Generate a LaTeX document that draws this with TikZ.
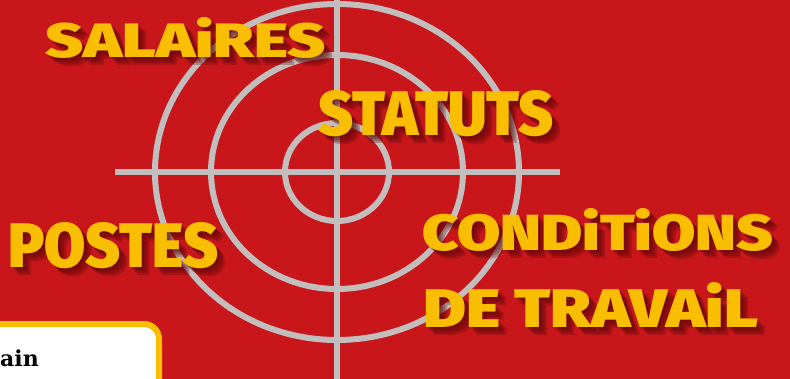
\documentclass[tikz,border=0pt]{standalone}
\usepackage{fontspec}
\newfontfamily\heavyfont{Fira Sans Black}
\newfontfamily\slabfont{DejaVu Serif}
\definecolor{bgred}{HTML}{C8161B}
\definecolor{tgray}{HTML}{C2BEBE}
\definecolor{tyellow}{HTML}{F9BE00}
\definecolor{shadowred}{HTML}{5A0606}
\definecolor{boxorange}{HTML}{F9BE00}
\newcommand{\fitw}[3]{\resizebox{#1pt}{#2pt}{\heavyfont #3}}
\tikzset{
  ring/.style={draw=tgray, line width=6pt},
  cross/.style={draw=tgray, line width=5.5pt},
  wordtxt/.style={inner sep=0pt, anchor=base west, text=tyellow},
  wordshadow/.style={inner sep=0pt, anchor=base west, text=shadowred, opacity=0.28},
}
\newcommand{\shadowword}[6]{%
  \foreach \d in {2,4,6,8}{%
    \node[wordshadow] at (#2+\d,#3+\d) {\fitw{#4}{#5}{#6}};
  }
  \node[wordtxt] (#1) at (#2,#3) {\fitw{#4}{#5}{#6}};
}
\begin{document}
\begin{tikzpicture}[x=1pt,y=-1pt]
\useasboundingbox (0,0) rectangle (790,378);
\clip (0,0) rectangle (790,378);
\fill[bgred] (-5,-5) rectangle (795,383);
% target
\coordinate (c) at (337,172);
\coordinate (vtop) at (337,-10);
\coordinate (vbot) at (337,390);
\coordinate (hl) at (115,172);
\coordinate (hr) at (560,172);
\draw[cross] (vtop) -- (vbot);
\draw[cross] (hl) -- (hr);
\draw[ring] (c) ellipse [x radius=182pt, y radius=168pt];
\draw[ring] (c) ellipse [x radius=126pt, y radius=117pt];
\draw[ring] (c) ellipse [x radius=52pt, y radius=49pt];
% words
\shadowword{salaires}{45}{57}{280}{40}{SALAiRES}
\shadowword{statuts}{318}{135}{235}{45}{STATUTS}
\shadowword{postes}{8}{267}{210}{45}{POSTES}
\shadowword{conditions}{422}{250}{351}{42}{CONDiTiONS}
\shadowword{travail}{423}{327}{335}{45}{DE TRAVAiL}
% box
\draw[fill=white, draw=boxorange, line width=6pt, rounded corners=15pt] (-30,324) rectangle (159,420);
\node[inner sep=0pt, anchor=base east, font=\slabfont\bfseries\fontsize{22}{24}\selectfont] (ain) at (39,366) {ain};
\end{tikzpicture}
\end{document}
